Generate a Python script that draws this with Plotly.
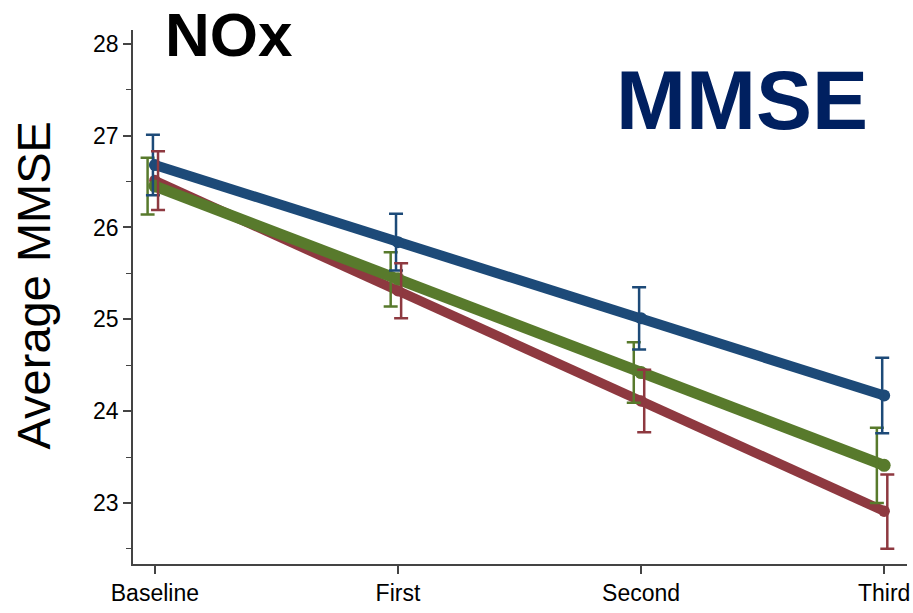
import plotly.graph_objects as go

# Visits and tick labels
visits = ["Baseline", "First", "Second", "Third"]
visit_pos = [0, 1, 2, 3]

# Average MMSE per exposure group, with 95% confidence limits
blue_mean = [26.68, 25.84, 25.01, 24.17]
blue_lo = [26.35, 25.53, 24.67, 23.76]
blue_hi = [27.01, 26.15, 25.35, 24.58]

green_mean = [26.45, 25.44, 24.42, 23.41]
green_lo = [26.14, 25.14, 24.09, 23.00]
green_hi = [26.76, 25.73, 24.75, 23.82]

red_mean = [26.51, 25.31, 24.11, 22.91]
red_lo = [26.19, 25.01, 23.77, 22.50]
red_hi = [26.83, 25.61, 24.45, 23.31]

y_ticks = [23, 24, 25, 26, 27, 28]

BLUE = "#1d4a78"
GREEN = "#587a2c"
RED = "#8e3940"
FONT = "Liberation Sans, Arial, sans-serif"

groups = [
    # name, colour, means, lower, upper, line width, error-bar dodge
    ("red", RED, red_mean, red_lo, red_hi, 9.5, 0.013),
    ("green", GREEN, green_mean, green_lo, green_hi, 11, -0.03),
    ("blue", BLUE, blue_mean, blue_lo, blue_hi, 10, -0.008),
]

fig = go.Figure()

# connecting lines first so the confidence bars sit on top
for name, col, m, lo, hi, lw, dx in groups:
    fig.add_trace(go.Scatter(
        x=visit_pos, y=m, mode="lines+markers",
        line=dict(color=col, width=lw),
        marker=dict(color=col, size=lw + 2),
        showlegend=False, hoverinfo="skip",
    ))

for name, col, m, lo, hi, lw, dx in [groups[1], groups[2], groups[0]]:
    fig.add_trace(go.Scatter(
        x=[p + dx for p in visit_pos], y=m, mode="markers",
        marker=dict(color=col, size=0.1, opacity=0),
        error_y=dict(
            type="data", symmetric=False,
            array=[h - v for h, v in zip(hi, m)],
            arrayminus=[v - l for v, l in zip(m, lo)],
            color=col, thickness=2.5, width=7,
        ),
        showlegend=False, hoverinfo="skip",
    ))

L, R, T, B = 133, 3, 30, 49
W, H = 913, 613
pw, ph = W - L - R, H - T - B


def px(xp):
    return (xp - L) / pw


def py(yp):
    return (H - B - yp) / ph


fig.update_layout(
    width=W, height=H,
    margin=dict(l=L, r=R, t=T, b=B, pad=0),
    paper_bgcolor="white", plot_bgcolor="white",
    font=dict(family=FONT, color="black"),
    xaxis=dict(
        range=[-0.09, 3.094], tickmode="array",
        tickvals=visit_pos, ticktext=visits,
        showgrid=False, zeroline=False,
        showline=True, linecolor="#444", linewidth=1.5,
        ticks="outside", ticklen=8, tickwidth=1.5, tickcolor="#444",
        tickfont=dict(size=23, family=FONT, color="black"),
        ticklabeloverflow="allow",
    ),
    yaxis=dict(
        range=[22.335, 28.15], tickmode="array", tickvals=y_ticks,
        showgrid=False, zeroline=False,
        showline=True, linecolor="#444", linewidth=1.5,
        ticks="outside", ticklen=8, tickwidth=1.5, tickcolor="#444",
        tickfont=dict(size=23, family=FONT, color="black"),
        minor=dict(dtick=0.5, ticks="outside", ticklen=5, tickwidth=1.2,
                   tickcolor="#444", showgrid=False),
    ),
    annotations=[
        dict(text="NOx", xref="paper", yref="paper",
             x=px(229.5), y=py(34), xanchor="center", yanchor="middle",
             showarrow=False,
             font=dict(size=62, family=FONT, color="black", weight="bold")),
        dict(text="MMSE", xref="paper", yref="paper",
             x=px(744), y=py(100), xanchor="center", yanchor="middle",
             showarrow=False,
             font=dict(size=84, family=FONT, color="#002060", weight="bold")),
        dict(text="Average MMSE", xref="paper", yref="paper",
             x=px(33), y=py(285), xanchor="center", yanchor="middle",
             textangle=-90, showarrow=False,
             font=dict(size=47, family=FONT, color="black")),
    ],
)

fig.write_html("out.html")
